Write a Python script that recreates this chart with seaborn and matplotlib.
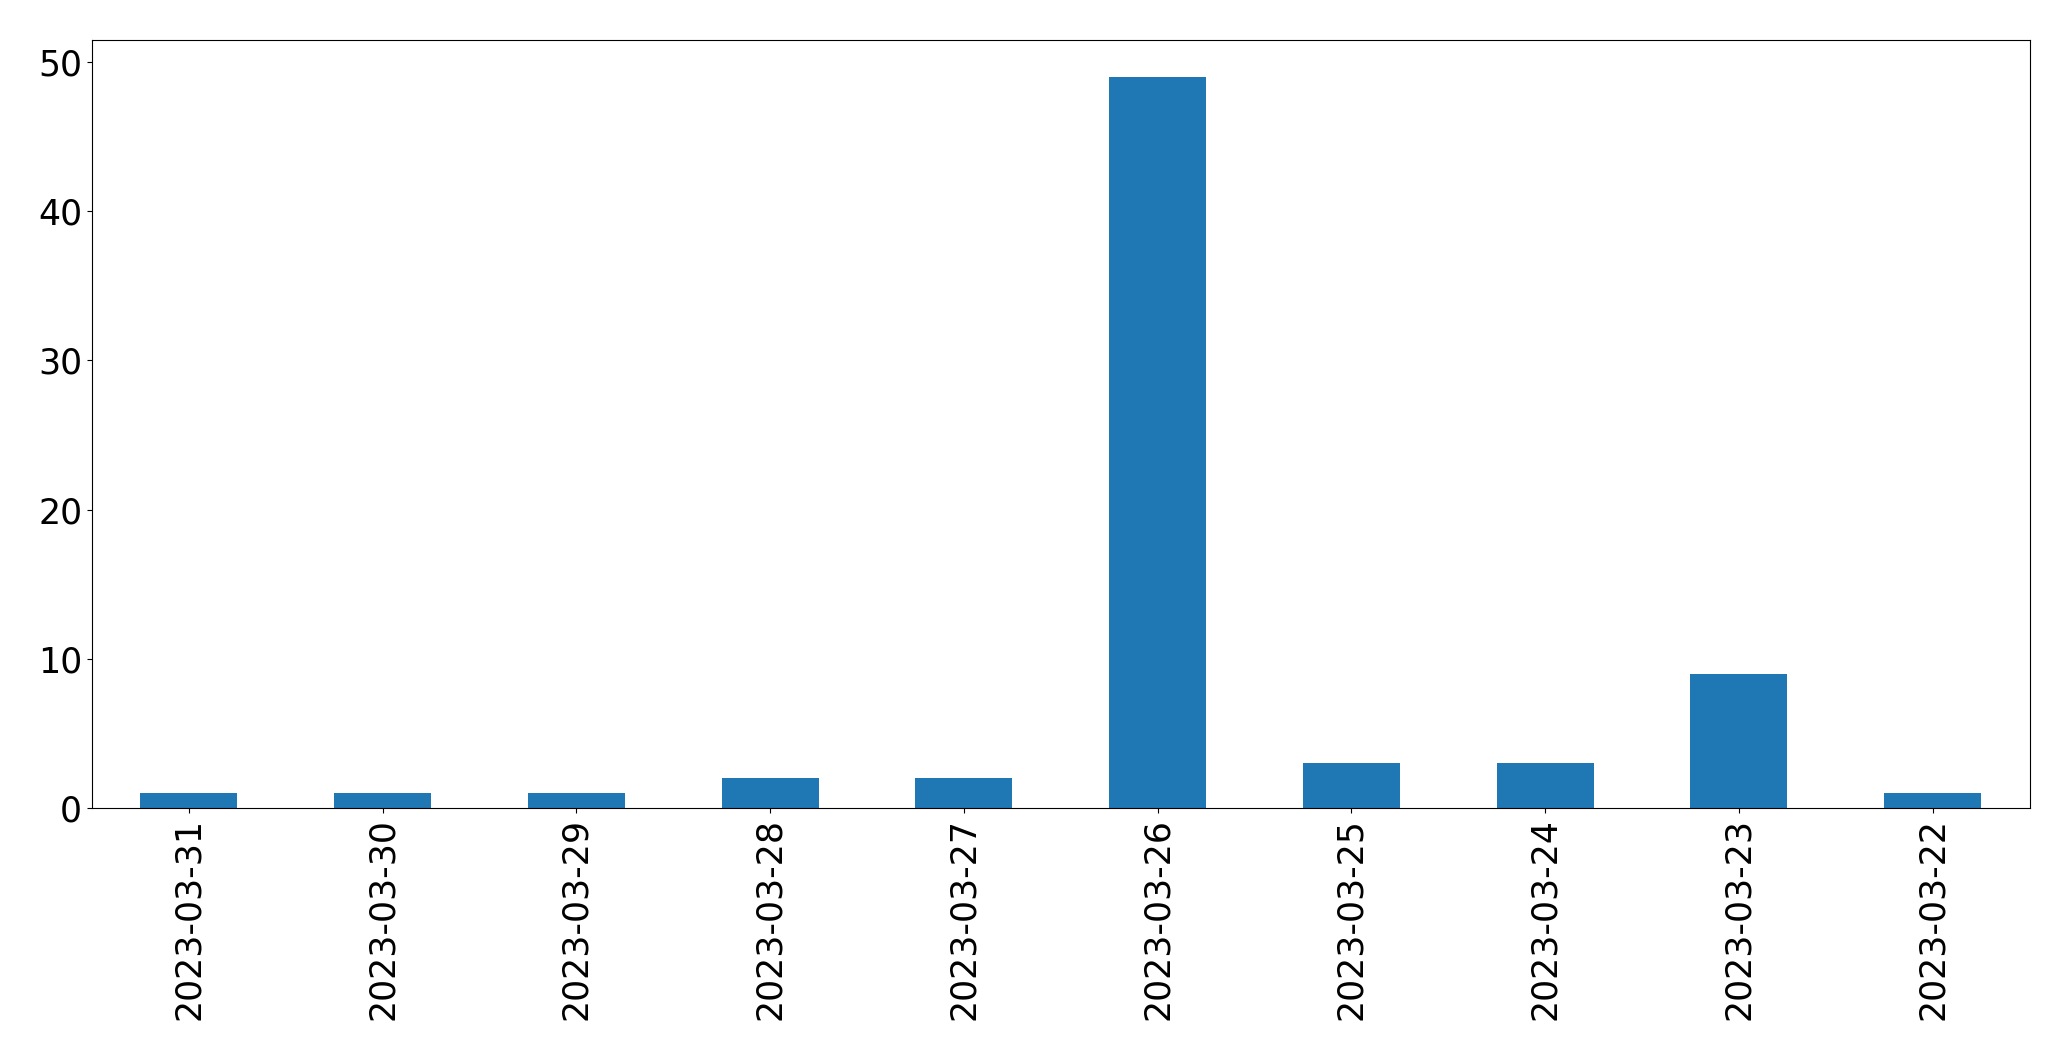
import pandas as pd
import matplotlib
matplotlib.use("Agg")
import matplotlib.pyplot as plt
import seaborn as sns

# --- data ---
dates = ["2023-03-31", "2023-03-30", "2023-03-29", "2023-03-28", "2023-03-27",
         "2023-03-26", "2023-03-25", "2023-03-24", "2023-03-23", "2023-03-22"]
counts = [1, 1, 1, 2, 2, 49, 3, 3, 9, 1]

df = pd.DataFrame({"date": dates, "count": counts})

fig, ax = plt.subplots(figsize=(20.71, 10.61), dpi=100)
sns.barplot(data=df, x="date", y="count", color="#1f77b4", saturation=1,
            width=0.5, ax=ax)

ax.set_xlim(-0.5, len(dates) - 0.5)
ax.set_ylim(0, max(counts) * 1.05)
ax.set_xlabel("")
ax.set_ylabel("")
ax.tick_params(axis="both", labelsize=25)
plt.xticks(rotation=90)

fig.subplots_adjust(left=0.0444, right=0.980, top=0.962, bottom=0.2385)
fig.savefig("out.png", dpi=100)
